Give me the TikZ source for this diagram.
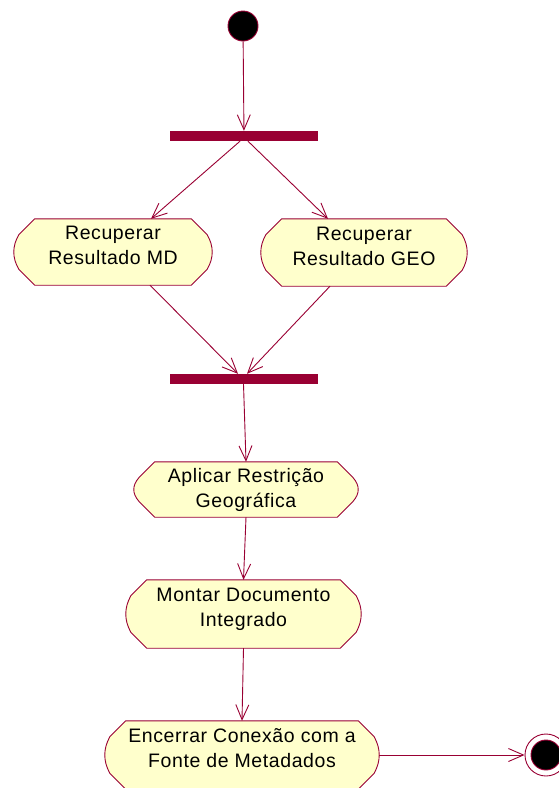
\documentclass[tikz,border=0pt]{standalone}
\usepackage{fontspec}
\setmainfont{Liberation Sans}[LetterSpace=3]
\usetikzlibrary{arrows.meta,calc}
\definecolor{umlline}{HTML}{990033}
\definecolor{umlfill}{HTML}{FFFFCC}
\pgfdeclarelayer{background}
\pgfsetlayers{background,main}
% struts that make the text block symmetric about the middle of its two baselines
\newcommand\topstrut{\rule{0pt}{15pt}}
\newcommand\botstrut{\rule[-15pt]{0pt}{15pt}}
\newcommand\lowstrut{\rule[-5pt]{0pt}{5pt}}
% activity state outline: flat top and bottom, chamfered corners, bulging sides
\newcommand\actoutline[1]{%
  \begin{pgfonlayer}{background}
    \draw[actedge] let \p1=(#1.north west), \p2=(#1.south east),
      \n1={(\y1-\y2-32pt)/3} in
      (\x1+21pt,\y1) -- (\x2-21pt,\y1) -- (\x2-5pt,\y1-16pt)
      .. controls (\x2+1.7pt,\y1-16pt-\n1) and (\x2+1.7pt,\y2+16pt+\n1) .. (\x2-5pt,\y2+16pt)
      -- (\x2-21pt,\y2) -- (\x1+21pt,\y2) -- (\x1+5pt,\y2+16pt)
      .. controls (\x1-1.7pt,\y2+16pt+\n1) and (\x1-1.7pt,\y1-16pt-\n1) .. (\x1+5pt,\y1-16pt)
      -- cycle;
  \end{pgfonlayer}}
\tikzset{
  actbox/.style={rectangle, inner sep=0pt, align=center,
    font=\fontsize{19.5}{25}\selectfont},
  actedge/.style={draw=umlline, fill=umlfill, line width=0.9pt},
  syncbar/.style={rectangle, fill=umlline, inner sep=0pt,
    minimum width=148pt, minimum height=10pt},
  startdot/.style={circle, fill=black, draw=umlline, line width=0.9pt,
    inner sep=0pt, minimum size=30pt},
  enddot/.style={circle, draw=umlline, fill=white, line width=0.9pt,
    inner sep=0pt, minimum size=42pt,
    path picture={\filldraw[fill=black, draw=umlline, line width=0.9pt]
      (path picture bounding box.center) circle (15pt);}},
  flow/.style={draw=umlline, line width=0.9pt,
    -{Straight Barb[length=15pt,width=13pt,line width=0.9pt]}}
}
\begin{document}
\begin{tikzpicture}[x=1pt, y=-1pt]
  \useasboundingbox (0,0) rectangle (558,788);

  % nodes
  \node[startdot] (start) at (243,26) {};
  \node[syncbar] (fork) at (244,136) {};
  \node[actbox, minimum width=198pt, minimum height=66pt] (md) at (113,252)
    {\topstrut Recuperar\\Resultado MD\botstrut};
  \node[actbox, minimum width=206pt, minimum height=67pt] (geo) at (364,252.5)
    {\topstrut Recuperar\\Resultado GEO\botstrut};
  \node[syncbar] (join) at (243.5,379) {};
  \node[actbox, minimum width=224pt, minimum height=55pt] (apply) at (246,489.5)
    {\topstrut Aplicar Restrição\\Geográfica\lowstrut};
  \node[actbox, minimum width=235pt, minimum height=68pt] (build) at (243.5,614)
    {\topstrut Montar Documento\\Integrado\botstrut};
  \node[actbox, minimum width=274pt, minimum height=68pt] (close) at (242,755)
    {\topstrut Encerrar Conexão com a\\Fonte de Metadados\botstrut};
  \node[enddot] (end) at (546,755) {};

  \actoutline{md}
  \actoutline{geo}
  \actoutline{apply}
  \actoutline{build}
  \actoutline{close}

  % transitions
  \draw[flow] (start) -- (fork);
  \draw[flow] ($(fork.south)+(-4,0)$) -- ($(md.north)+(38,0)$);
  \draw[flow] ($(fork.south)+(4,0)$) -- ($(geo.north)+(-36,0)$);
  \draw[flow] ($(md.south)+(37,0)$) -- ($(join.north)+(-5.5,0)$);
  \draw[flow] ($(geo.south)+(-34,0)$) -- ($(join.north)+(3.5,0)$);
  \draw[flow] (join.south) -- (apply.north);
  \draw[flow] (apply.south) -- (build.north);
  \draw[flow] (build.south) -- (close.north);
  \draw[flow] (close.east) -- (end.west);
\end{tikzpicture}
\end{document}
